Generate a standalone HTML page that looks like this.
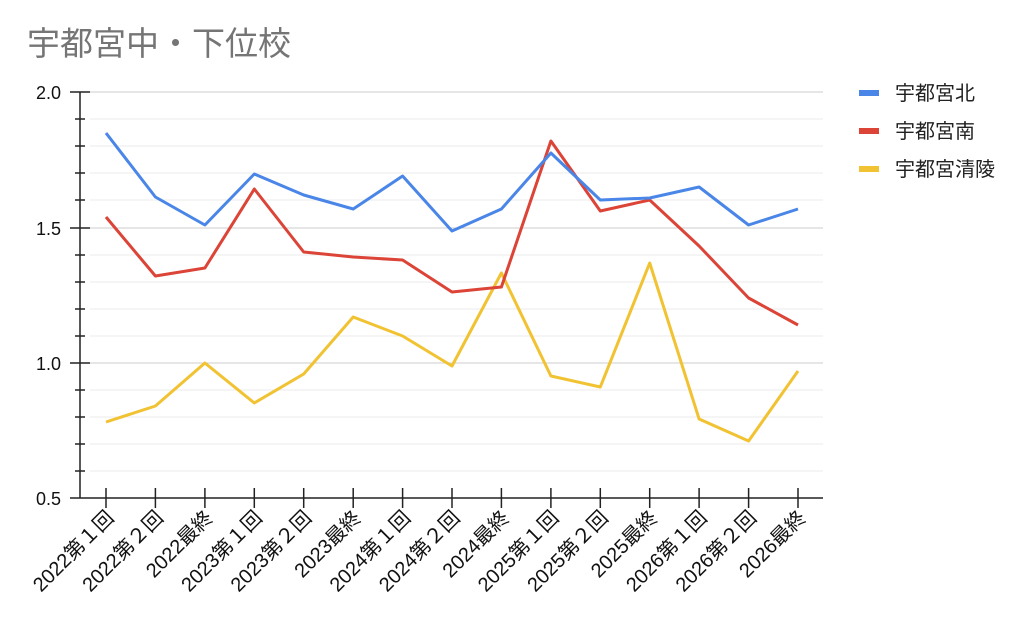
<!DOCTYPE html>
<html><head><meta charset="utf-8"><style>
html,body{margin:0;padding:0;background:#fff;}
svg{display:block;font-family:"Liberation Sans","Noto Sans CJK JP",sans-serif;}
</style></head><body>
<svg width="1024" height="630" viewBox="0 0 1024 630">
<text x="27" y="55" font-size="33" fill="#757575">宇都宮中・下位校</text>
<g stroke="#ebebeb" stroke-width="1">
<line x1="90" x2="823" y1="119" y2="119"/><line x1="90" x2="823" y1="146" y2="146"/><line x1="90" x2="823" y1="173" y2="173"/><line x1="90" x2="823" y1="200" y2="200"/>
<line x1="90" x2="823" y1="255" y2="255"/><line x1="90" x2="823" y1="282" y2="282"/><line x1="90" x2="823" y1="309" y2="309"/><line x1="90" x2="823" y1="336" y2="336"/>
<line x1="90" x2="823" y1="390" y2="390"/><line x1="90" x2="823" y1="417" y2="417"/><line x1="90" x2="823" y1="444" y2="444"/><line x1="90" x2="823" y1="471" y2="471"/>
</g>
<g stroke="#cccccc" stroke-width="1">
<line x1="90" x2="823" y1="92" y2="92"/><line x1="90" x2="823" y1="228" y2="228"/><line x1="90" x2="823" y1="363" y2="363"/>
</g>
<g stroke="#222" stroke-width="1.5">
<line x1="80" x2="80" y1="92" y2="498"/>
<line x1="70" x2="823" y1="498" y2="498"/>
<line x1="70" x2="90" y1="92" y2="92"/><line x1="70" x2="90" y1="228" y2="228"/><line x1="70" x2="90" y1="363" y2="363"/>
<line x1="75" x2="85" y1="119" y2="119"/><line x1="75" x2="85" y1="146" y2="146"/><line x1="75" x2="85" y1="173" y2="173"/><line x1="75" x2="85" y1="200" y2="200"/>
<line x1="75" x2="85" y1="255" y2="255"/><line x1="75" x2="85" y1="282" y2="282"/><line x1="75" x2="85" y1="309" y2="309"/><line x1="75" x2="85" y1="336" y2="336"/>
<line x1="75" x2="85" y1="390" y2="390"/><line x1="75" x2="85" y1="417" y2="417"/><line x1="75" x2="85" y1="444" y2="444"/><line x1="75" x2="85" y1="471" y2="471"/>
<line x1="106" x2="106" y1="488" y2="508"/><line x1="155.4" x2="155.4" y1="488" y2="508"/><line x1="204.9" x2="204.9" y1="488" y2="508"/><line x1="254.3" x2="254.3" y1="488" y2="508"/><line x1="303.7" x2="303.7" y1="488" y2="508"/><line x1="353.2" x2="353.2" y1="488" y2="508"/><line x1="402.6" x2="402.6" y1="488" y2="508"/><line x1="452" x2="452" y1="488" y2="508"/><line x1="501.4" x2="501.4" y1="488" y2="508"/><line x1="550.9" x2="550.9" y1="488" y2="508"/><line x1="600.3" x2="600.3" y1="488" y2="508"/><line x1="649.7" x2="649.7" y1="488" y2="508"/><line x1="699.1" x2="699.1" y1="488" y2="508"/><line x1="748.6" x2="748.6" y1="488" y2="508"/><line x1="798" x2="798" y1="488" y2="508"/>
</g>
<g font-size="18" fill="#111" text-anchor="end">
<text x="61" y="99">2.0</text><text x="61" y="235">1.5</text><text x="61" y="370">1.0</text><text x="61" y="505">0.5</text>
</g>
<g fill="none" stroke-width="3" stroke-linejoin="round">
<polyline points="106,422 155.4,406 204.9,363 254.3,403 303.7,374 353.2,317 402.6,336 452,366 501.4,273 550.9,376 600.3,387 649.7,263 699.1,419 748.6,441 798,371" style="stroke:#f1c232"/>
<polyline stroke="#db4437" points="106,217 155.4,276 204.9,268 254.3,189 303.7,252 353.2,257 402.6,260 452,292 501.4,287 550.9,141 600.3,211 649.7,200 699.1,246 748.6,298 798,325"/>
<polyline stroke="#4a86e8" points="106,133 155.4,197 204.9,225 254.3,174 303.7,195 353.2,209 402.6,176 452,231 501.4,209 550.9,153 600.3,200 649.7,198 699.1,187 748.6,225 798,209"/>
</g>
<g font-size="20" fill="#111" text-anchor="end">
<text transform="translate(115,519) rotate(-45)">2022第１回</text>
<text transform="translate(164.4,519) rotate(-45)">2022第２回</text>
<text transform="translate(213.9,519) rotate(-45)">2022最終</text>
<text transform="translate(263.3,519) rotate(-45)">2023第１回</text>
<text transform="translate(312.7,519) rotate(-45)">2023第２回</text>
<text transform="translate(362.2,519) rotate(-45)">2023最終</text>
<text transform="translate(411.6,519) rotate(-45)">2024第１回</text>
<text transform="translate(461,519) rotate(-45)">2024第２回</text>
<text transform="translate(510.4,519) rotate(-45)">2024最終</text>
<text transform="translate(559.9,519) rotate(-45)">2025第１回</text>
<text transform="translate(609.3,519) rotate(-45)">2025第２回</text>
<text transform="translate(658.7,519) rotate(-45)">2025最終</text>
<text transform="translate(708.1,519) rotate(-45)">2026第１回</text>
<text transform="translate(757.6,519) rotate(-45)">2026第２回</text>
<text transform="translate(807,519) rotate(-45)">2026最終</text>
</g>
<rect x="859" y="90" width="20" height="6" fill="#4a86e8"/>
<rect x="859" y="128" width="20" height="6" fill="#db4437"/>
<rect x="859" y="166" width="20" height="6" fill="#f1c232"/>
<g font-size="20" fill="#222">
<text x="895" y="100">宇都宮北</text>
<text x="895" y="138">宇都宮南</text>
<text x="895" y="176">宇都宮清陵</text>
</g>
</svg>
</body></html>
